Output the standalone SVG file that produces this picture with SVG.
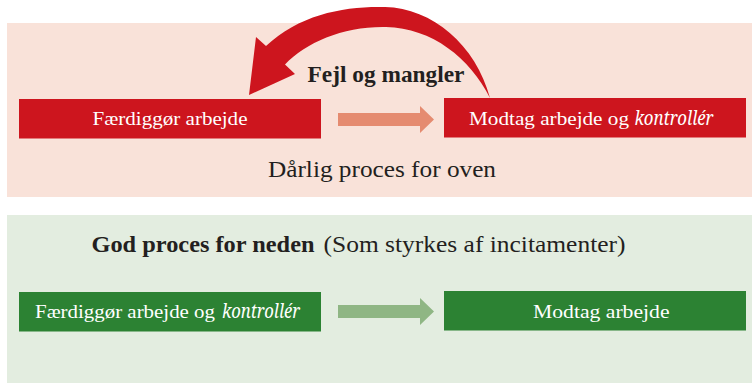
<svg xmlns="http://www.w3.org/2000/svg" width="752" height="383" viewBox="0 0 752 383">
<style>
text{font-family:'Liberation Serif',serif}
.lbl{fill:#231f20}
.box{fill:#ffffff;font-size:19px}
.it{font-style:italic;font-family:'Noto Serif','DejaVu Serif',serif}
</style>
<g id="panel-top">
<rect x="7" y="23" width="745" height="174" fill="#f9e2d9"/>
</g>
<g id="panel-bottom">
<rect x="7" y="215" width="745" height="168" fill="#e3ede0"/>
</g>
<g id="connectors">
<path id="feedback" d="M249,95 L256,37 L266,46 C300,14 345,6 385,7 C432,8 476,45 490,98 C470,58 432,28 386,27 C345,26 306,42 285,64.5 L295,74 Z" fill="#cd151e"/>
<polygon points="338,113 420,113 420,106 434,119.5 420,133 420,126 338,126" fill="#e58b70"/>
<polygon points="338,305 420,305 420,298 434,311.5 420,325 420,318 338,318" fill="#8fb684"/>
</g>
<g id="label-fejl">
<text class="lbl" x="307.5" y="82" font-size="23" font-weight="bold" textLength="157" lengthAdjust="spacingAndGlyphs">Fejl og mangler</text>
</g>
<g id="node-faerdiggoer">
<rect x="19" y="99" width="302" height="39.5" fill="#cd151e"/>
<text class="box" x="92.5" y="124.5" textLength="155" lengthAdjust="spacingAndGlyphs">Færdiggør arbejde</text>
</g>
<g id="node-modtag-kontroller">
<rect x="444" y="98" width="302" height="39.5" fill="#cd151e"/>
<text class="box" y="124.5"><tspan x="469" textLength="160" lengthAdjust="spacingAndGlyphs">Modtag arbejde og</tspan><tspan class="it" x="634.5" textLength="79" lengthAdjust="spacingAndGlyphs">kontrollér</tspan></text>
</g>
<g id="label-daarlig">
<text class="lbl" x="268" y="177" font-size="24" textLength="228" lengthAdjust="spacingAndGlyphs">Dårlig proces for oven</text>
</g>
<g id="label-god">
<text class="lbl" y="252" font-size="24"><tspan x="91.5" font-weight="bold" textLength="223" lengthAdjust="spacingAndGlyphs">God proces for neden</tspan><tspan x="323.5" textLength="302" lengthAdjust="spacingAndGlyphs">(Som styrkes af incitamenter)</tspan></text>
</g>
<g id="node-faerdiggoer-kontroller">
<rect x="19" y="292" width="302" height="39.5" fill="#2c8233"/>
<text class="box" y="318"><tspan x="35" textLength="180" lengthAdjust="spacingAndGlyphs">Færdiggør arbejde og</tspan><tspan class="it" x="222" textLength="78" lengthAdjust="spacingAndGlyphs">kontrollér</tspan></text>
</g>
<g id="node-modtag">
<rect x="444" y="291" width="302" height="39.5" fill="#2c8233"/>
<text class="box" x="533" y="317.5" textLength="136.5" lengthAdjust="spacingAndGlyphs">Modtag arbejde</text>
</g>
</svg>
